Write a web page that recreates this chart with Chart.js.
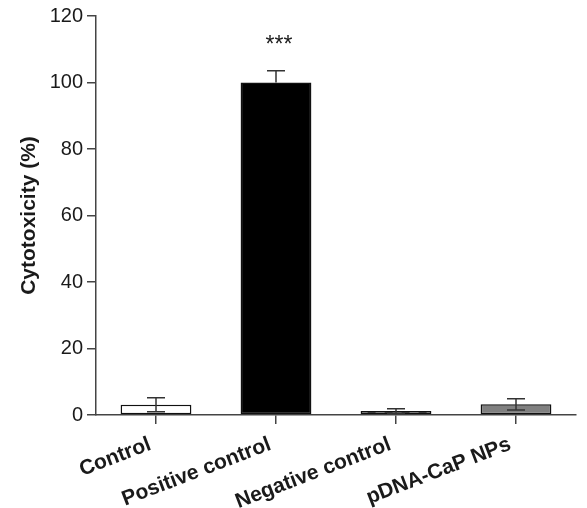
<!DOCTYPE html>
<html>
<head>
<meta charset="utf-8">
<script src="https://cdn.jsdelivr.net/npm/chart.js@4.4.1/dist/chart.umd.min.js"></script>
<style>
  html, body { margin: 0; padding: 0; background: #fff; }
  #wrap { width: 587px; height: 508px; position: relative; }
</style>
</head>
<body>
<div id="wrap"><canvas id="chart"></canvas></div>
<script>
// --- data ---
const groups = ['Control', 'Positive control', 'Negative control', 'pDNA-CaP NPs'];
const cytotoxicity = [3.1, 100, 1.2, 3.2];   // mean, %
const errUp = [2.1, 3.5, 0.7, 1.7];          // upper whisker
const errDown = [2.1, 0, 0.7, 1.7];          // lower whisker (hidden inside the black bar)
const significance = ['', '***', '', ''];
const yTicks = [0, 20, 40, 60, 80, 100, 120];

const AXIS = '#444';
const TEXT = '#1a1a1a';
const FONT = '"Liberation Sans", Arial, sans-serif';

// white bar with slanted black dashes (Negative control)
function makeDashPattern() {
    const c = document.createElement('canvas');
    c.width = 17; c.height = 17;
    const g = c.getContext('2d');
    g.fillStyle = '#fff';
    g.fillRect(0, 0, 17, 17);
    g.fillStyle = '#000';
    for (let k = -1; k <= 1; k++) {
        const o = k * 17;
        g.beginPath();
        g.moveTo(o + 4, 17); g.lineTo(o + 12, 17);
        g.lineTo(o + 21, 0); g.lineTo(o + 13, 0);
        g.closePath();
        g.fill();
    }
    return g.createPattern(c, 'repeat');
}

const fills = ['#ffffff', '#000000', makeDashPattern(), '#808080'];

// error bars + significance stars
const errorBars = {
    id: 'errorBars',
    afterDatasetsDraw(chart) {
        const { ctx } = chart;
        const y = chart.scales.y;
        const meta = chart.getDatasetMeta(0);
        ctx.save();
        ctx.strokeStyle = '#333';
        ctx.lineWidth = 1.5;
        meta.data.forEach((bar, i) => {
            const x = bar.x;
            const top = y.getPixelForValue(cytotoxicity[i]);
            const hi = y.getPixelForValue(cytotoxicity[i] + errUp[i]);
            const lo = y.getPixelForValue(cytotoxicity[i] - errDown[i]);
            const cap = 9;
            ctx.beginPath();
            ctx.moveTo(x, hi); ctx.lineTo(x, top);
            ctx.moveTo(x - cap, hi); ctx.lineTo(x + cap, hi);
            if (errDown[i] > 0) {
                ctx.moveTo(x, top); ctx.lineTo(x, lo);
                ctx.moveTo(x - cap, lo); ctx.lineTo(x + cap, lo);
            }
            ctx.stroke();
            if (significance[i]) {
                ctx.fillStyle = TEXT;
                ctx.font = '23px ' + FONT;
                ctx.textAlign = 'center';
                ctx.textBaseline = 'middle';
                ctx.fillText(significance[i], x + 3, hi - 25);
            }
        });
        ctx.restore();
    }
};

new Chart(document.getElementById('chart'), {
    type: 'bar',
    data: {
        labels: groups,
        datasets: [{
            data: cytotoxicity,
            backgroundColor: fills,
            borderColor: '#111',
            borderWidth: 1.5,
            borderSkipped: false,
            barPercentage: 0.59,
            categoryPercentage: 1.0
        }]
    },
    options: {
        responsive: true,
        maintainAspectRatio: false,
        animation: false,
        devicePixelRatio: 1,
        layout: { padding: { top: 16, right: 11, left: 0, bottom: 0 } },
        plugins: {
            legend: { display: false },
            tooltip: { enabled: false }
        },
        scales: {
            x: {
                grid: {
                    offset: false,
                    drawOnChartArea: false,
                    drawTicks: true,
                    tickLength: 9,
                    color: AXIS,
                    lineWidth: 1.5
                },
                border: { display: true, color: AXIS, width: 1.5 },
                ticks: {
                    color: TEXT,
                    font: { family: FONT, size: 21, weight: 'bold' },
                    maxRotation: 21,
                    minRotation: 21,
                    autoSkip: false,
                    padding: 8,
                    labelOffset: -6
                },
                afterFit: (s) => { s.height = 93; }
            },
            y: {
                min: 0,
                max: 120,
                afterBuildTicks: (s) => { s.ticks = yTicks.map(v => ({ value: v })); },
                grid: {
                    drawOnChartArea: false,
                    drawTicks: true,
                    tickLength: 9,
                    color: AXIS,
                    lineWidth: 1.5
                },
                border: { display: true, color: AXIS, width: 1.5 },
                ticks: {
                    color: TEXT,
                    font: { family: FONT, size: 20 },
                    padding: 4
                },
                title: {
                    display: true,
                    text: 'Cytotoxicity (%)',
                    color: TEXT,
                    font: { family: FONT, size: 21, weight: 'bold' },
                    padding: { top: 17, bottom: 0 }
                },
                afterFit: (s) => { s.width = 96; }
            }
        }
    },
    plugins: [errorBars]
});
</script>
</body>
</html>
